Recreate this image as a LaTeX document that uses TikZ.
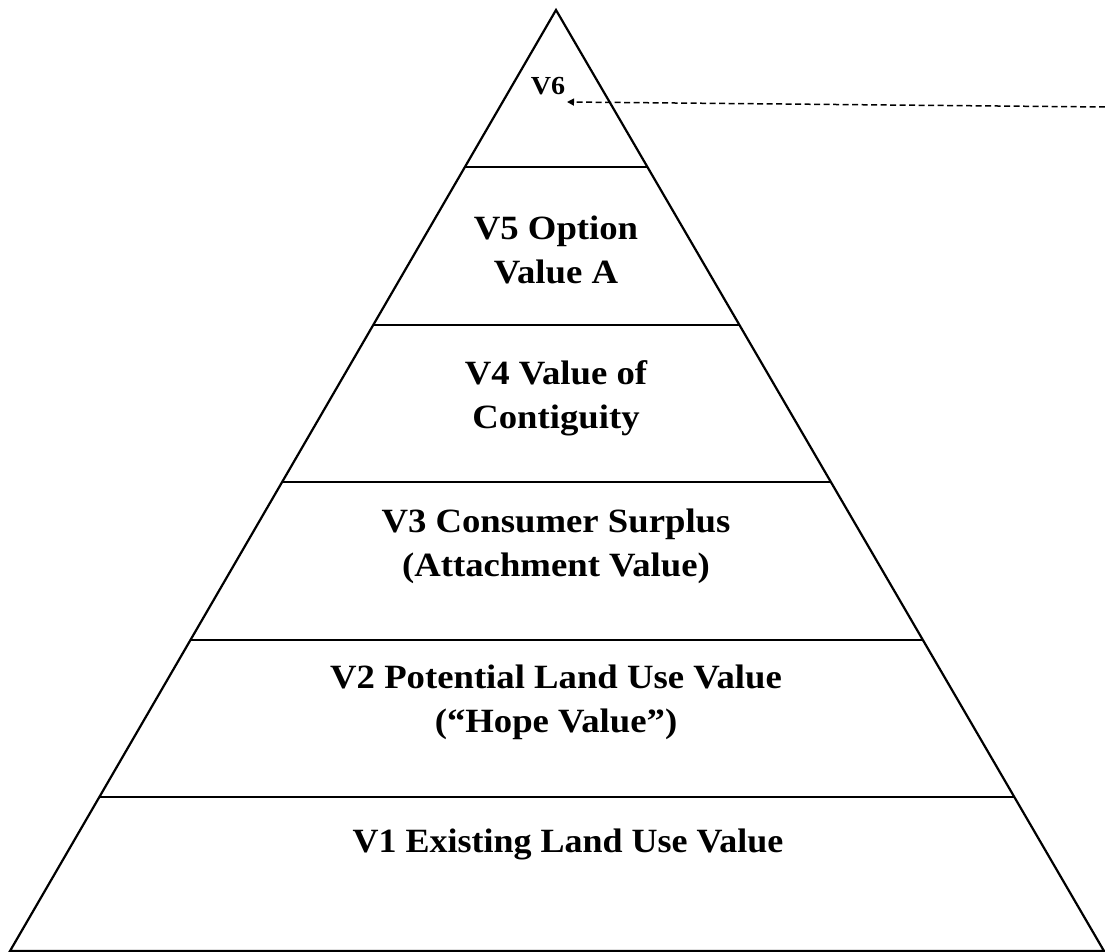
\documentclass[tikz,border=0pt]{standalone}
\usepackage{fontspec}
\setmainfont{Liberation Serif}
\usetikzlibrary{calc,arrows.meta}

\begin{document}
\begin{tikzpicture}[x=1pt, y=-1pt, every node/.style={align=center, inner sep=0pt, xscale=1.08, font=\bfseries\fontsize{34}{44}\selectfont}]
  \useasboundingbox (0,0) rectangle (1105,952);
  \coordinate (apex) at (556,10);
  \coordinate (bl) at (10,951);
  \coordinate (br) at (1104,951);
  \draw[line width=2.2pt] (apex) -- (bl) -- (br) -- cycle;
  \foreach \y in {167,325,482,640,797}
    \draw[line width=2.8pt] ($(apex)!{(\y-10)/941}!(bl)$) -- ($(apex)!{(\y-10)/941}!(br)$);
  \node (v6) at (548,86) {\fontsize{26}{30}\selectfont V6};
  \node (v5) at (556,250) {V5 Option\\Value A};
  \node (v4) at (556,398) {V4 Value of\\Contiguity};
  \node (v3) at (556,546) {V3 Consumer Surplus\\(Attachment Value)};
  \node (v2) at (556,702) {V2 Potential Land Use Value\\(``Hope Value'')};
  \node[xscale=0.98] (v1) at (568,844) {V1 Existing Land Use Value};
  \coordinate (tip) at (567,102);
  \coordinate (edge) at (1105,107);
  \draw[line width=1.5pt, dash pattern=on 6pt off 3.5pt, -{Triangle[length=7pt,width=7pt]}] (edge) -- (tip);
\end{tikzpicture}
\end{document}
